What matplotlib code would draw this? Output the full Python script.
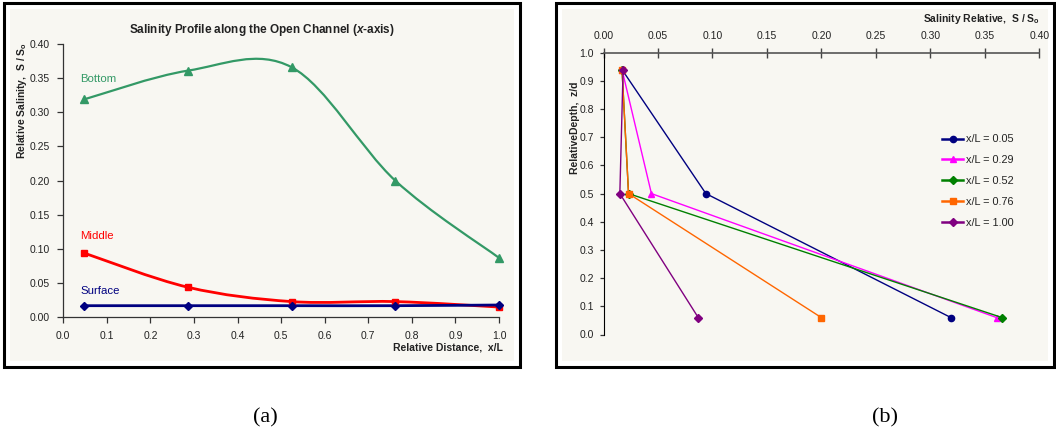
"""Salinity profiles: (a) along the channel, (b) over depth."""

import matplotlib

matplotlib.use("Agg")
import matplotlib.pyplot as plt
from matplotlib.patches import PathPatch, Rectangle
from matplotlib.path import Path

# --- data ---
x_over_l = [0.048, 0.286, 0.524, 0.762, 1.0]
surface = [0.017, 0.017, 0.017, 0.017, 0.018]
middle = [0.094, 0.044, 0.023, 0.023, 0.015]
bottom = [0.319, 0.361, 0.366, 0.200, 0.087]
depth = [0.94, 0.50, 0.06]  # surface, middle, bottom (z/d)
station_labels = ["x/L = 0.05", "x/L = 0.29", "x/L = 0.52", "x/L = 0.76", "x/L = 1.00"]
x_ticks_a = [0.0, 0.1, 0.2, 0.3, 0.4, 0.5, 0.6, 0.7, 0.8, 0.9, 1.0]
y_ticks_a = [0.0, 0.05, 0.10, 0.15, 0.20, 0.25, 0.30, 0.35, 0.40]
x_ticks_b = [0.0, 0.05, 0.10, 0.15, 0.20, 0.25, 0.30, 0.35, 0.40]
y_ticks_b = [0.0, 0.1, 0.2, 0.3, 0.4, 0.5, 0.6, 0.7, 0.8, 0.9, 1.0]

plt.rcParams["font.family"] = ["Liberation Sans", "DejaVu Sans"]
plt.rcParams["mathtext.fontset"] = "custom"
plt.rcParams["mathtext.it"] = "Liberation Sans:italic:bold"
plt.rcParams["mathtext.rm"] = "Liberation Sans"

W, H = 1056, 434
BEIGE = "#f8f7f2"
TXT = "#222222"


def fx(px):
    return px / W


def fy(py):
    return 1 - py / H


def smooth_path(xs, ys):
    """Excel-like smoothed line: cubic Bezier through the points."""
    pts = list(zip(xs, ys))
    verts = [pts[0]]
    codes = [Path.MOVETO]
    n = len(pts)
    for i in range(n - 1):
        p0 = pts[max(i - 1, 0)]
        p1 = pts[i]
        p2 = pts[i + 1]
        p3 = pts[min(i + 2, n - 1)]
        c1 = (p1[0] + (p2[0] - p0[0]) / 6, p1[1] + (p2[1] - p0[1]) / 6)
        c2 = (p2[0] - (p3[0] - p1[0]) / 6, p2[1] - (p3[1] - p1[1]) / 6)
        verts += [c1, c2, p2]
        codes += [Path.CURVE4] * 3
    return Path(verts, codes)


fig = plt.figure(figsize=(W / 100, H / 100), dpi=100)
fig.patch.set_facecolor("white")

# panel frames
for x0, x1 in [(4, 520), (556, 1054)]:
    fig.patches.append(Rectangle((fx(x0 + 6), fy(361)), (x1 - x0 - 12) / W, (361 - 9) / H,
                                 transform=fig.transFigure, facecolor=BEIGE,
                                 edgecolor="none", zorder=-3))
    fig.patches.append(Rectangle((fx(x0), fy(367)), (x1 - x0) / W, (367 - 3) / H,
                                 transform=fig.transFigure, fill=False,
                                 edgecolor="black", lw=2.2, zorder=-2))

# --- (a) salinity along the channel ---
ax1 = fig.add_axes([fx(63.3), fy(317.3), (499 - 63.3) / W, (317.3 - 44) / H])
ax1.set_facecolor("none")
ax1.set_xlim(0, 1.0)
ax1.set_ylim(0, 0.40)
for s in ["top", "right"]:
    ax1.spines[s].set_visible(False)
for s in ["left", "bottom"]:
    ax1.spines[s].set_color("#333333")
    ax1.spines[s].set_linewidth(0.9)
ax1.set_xticks(x_ticks_a)
ax1.set_xticklabels([f"{v:.1f}" for v in x_ticks_a])
ax1.set_yticks(y_ticks_a)
ax1.set_yticklabels([f"{v:.2f}" for v in y_ticks_a])
ax1.tick_params(direction="out", length=4, width=0.9, color="#333333",
                labelsize=7.5, labelcolor=TXT)
ax1.tick_params(axis="x", pad=6)
ax1.tick_params(axis="y", pad=6)

series = [
    (bottom, "#339966", "^", 5.5, 1.6, "Bottom", 79),
    (middle, "#ff0000", "s", 5.0, 2.0, "Middle", 236),
    (surface, "#000080", "D", 4.0, 2.0, "Surface", 291),
]
for vals, col, mk, ms, lw, name, ty in series:
    ax1.add_patch(PathPatch(smooth_path(x_over_l, vals), fill=False, edgecolor=col,
                            lw=lw, clip_on=False, zorder=2))
    ax1.plot(x_over_l, vals, linestyle="none", marker=mk, ms=ms, color=col,
             clip_on=False, zorder=3)
    fig.text(fx(80), fy(ty), name, color=col, fontsize=8.2, va="center", ha="left")

fig.text(fx(262), fy(30), "Salinity Profile along the Open Channel ($x$-axis)",
         ha="center", va="center", fontsize=8.5, fontweight="bold", color=TXT)
fig.text(fx(22), fy(101), r"Relative Salinity,  S / S$_\mathregular{o}$", rotation=90,
         ha="center", va="center", fontsize=7.5, fontweight="bold", color=TXT)
fig.text(fx(503), fy(347), "Relative Distance,  x/L", ha="right", va="center",
         fontsize=7.5, fontweight="bold", color=TXT)

# --- (b) vertical profiles ---
ax2 = fig.add_axes([fx(603.5), fy(334.5), (1039.2 - 603.5) / W, (334.5 - 52.7) / H])
ax2.set_facecolor("none")
ax2.set_xlim(0, 0.40)
ax2.set_ylim(0, 1.0)
for s in ["bottom", "right"]:
    ax2.spines[s].set_visible(False)
ax2.spines["left"].set_color("black")
ax2.spines["top"].set_color("#555555")
ax2.spines["top"].set_linewidth(1.2)
ax2.xaxis.tick_top()
ax2.set_xticks(x_ticks_b)
ax2.set_xticklabels([f"{v:.2f}" for v in x_ticks_b])
ax2.set_yticks(y_ticks_b)
ax2.set_yticklabels([f"{v:.1f}" for v in y_ticks_b])
ax2.tick_params(axis="x", direction="inout", length=7, width=1.0, color="#444444",
                labelsize=7.5, labelcolor=TXT, pad=5)
ax2.tick_params(axis="y", direction="out", length=3, width=0.9, color="#333333",
                labelsize=7.5, labelcolor=TXT, pad=4)

styles = [
    ("#000080", "o", 4.5),
    ("#ff00ff", "^", 5.0),
    ("#008000", "D", 3.8),
    ("#ff6600", "s", 4.5),
    ("#800080", "D", 3.8),
]
for i, (col, mk, ms) in enumerate(styles):
    prof = [surface[i], middle[i], bottom[i]]
    ax2.plot(prof, depth, color=col, lw=1.0, marker=mk, ms=ms, label=station_labels[i],
             clip_on=False)

leg = ax2.legend(loc="upper left", bbox_to_anchor=(fx(937), fy(129)),
                 bbox_transform=fig.transFigure, frameon=False, fontsize=7.8,
                 handlelength=1.9, handletextpad=0.3, labelspacing=1.0, borderpad=0)
for t in leg.get_texts():
    t.set_color(TXT)
for h in leg.legend_handles:
    h.set_linewidth(1.8)

fig.text(fx(1040), fy(19), r"Salinity Relative,  S / S$_\mathregular{o}$", ha="right",
         va="center", fontsize=7.5, fontweight="bold", color=TXT)
fig.text(fx(575), fy(128), "RelativeDepth,  z/d", rotation=90, ha="center", va="center",
         fontsize=7.5, fontweight="bold", color=TXT)

# panel tags
fig.text(fx(265), fy(418), "(a)", family="Liberation Serif", fontsize=16,
         ha="center", va="center")
fig.text(fx(885), fy(418), "(b)", family="Liberation Serif", fontsize=16,
         ha="center", va="center")

fig.savefig("out.png", dpi=100)
